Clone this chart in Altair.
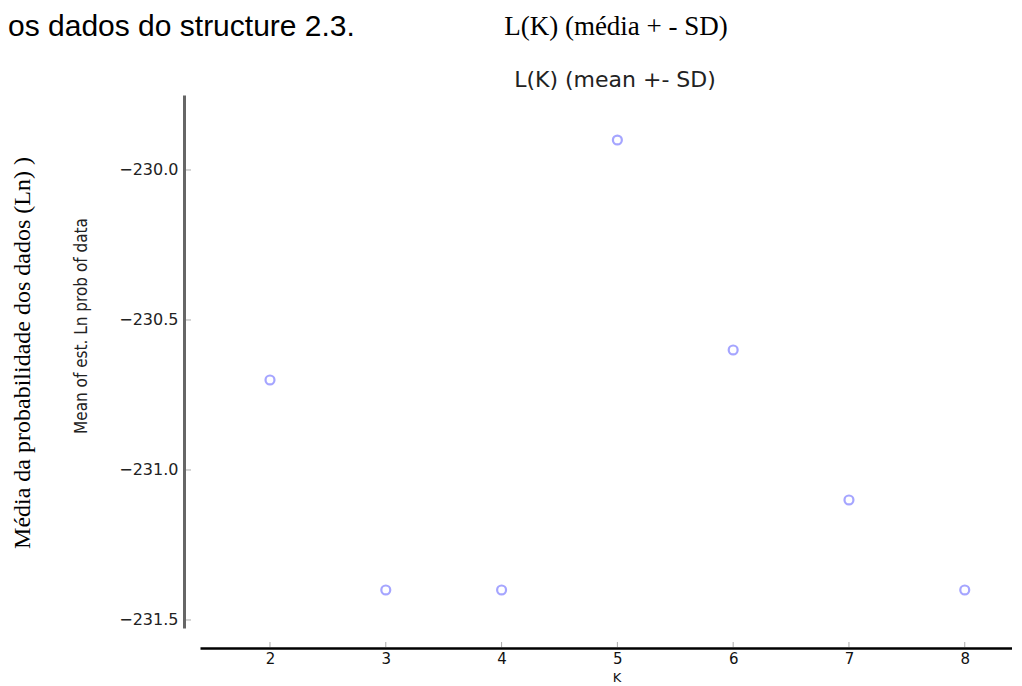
import altair as alt
import pandas as pd

# ---- data ----
K_VALUES = [2, 3, 4, 5, 6, 7, 8]
MEAN_LN = [-230.7, -231.4, -231.4, -229.9, -230.6, -231.1, -231.4]
X_TICKS = [2, 3, 4, 5, 6, 7, 8]
Y_TICKS = [-230.0, -230.5, -231.0, -231.5]

CAPTION = "os dados do structure 2.3."
TITLE_PT = "L(K) (média + - SD)"
TITLE_EN = "L(K) (mean +- SD)"
YLABEL_PT = "Média da probabilidade dos dados  (Ln) )"
YLABEL_EN = "Mean of est. Ln prob of data"
XLABEL = "K"

W, H = 812, 533

df = pd.DataFrame({"K": K_VALUES, "mean": MEAN_LN})
xticks_df = pd.DataFrame({"K": X_TICKS})
yticks_df = pd.DataFrame({"mean": Y_TICKS})

xscale = alt.Scale(domain=[1.3955, 8.408], nice=False, zero=False)
yscale = alt.Scale(domain=[-231.5267, -229.75], nice=False, zero=False)

xaxis = alt.Axis(values=X_TICKS, title=None, offset=20, tickSize=0, labelPadding=3,
                 domainColor="#000000", domainWidth=2.5, labelFont="DejaVu Sans",
                 labelFontSize=15, labelColor="#111111", grid=False, format="d")
yaxis = alt.Axis(values=Y_TICKS, title=None, offset=16, tickSize=0, labelPadding=6,
                 domainColor="#666666", domainWidth=3, labelFont="DejaVu Sans",
                 labelFontSize=16, labelColor="#222222", grid=False, format=".1f")

points = alt.Chart(df).mark_point(
    shape="circle", filled=False, size=80, strokeWidth=2.2, color="#7f7fff"
).encode(
    x=alt.X("K:Q", scale=xscale, axis=xaxis),
    y=alt.Y("mean:Q", scale=yscale, axis=yaxis),
)

ytick_marks = alt.Chart(yticks_df).mark_rule(color="#aaaaaa", strokeWidth=1).encode(
    y=alt.Y("mean:Q", scale=yscale, axis=yaxis),
    x=alt.value(-14), x2=alt.value(-9),
)

xtick_marks = alt.Chart(xticks_df).mark_rule(color="#aaaaaa", strokeWidth=1).encode(
    x=alt.X("K:Q", scale=xscale, axis=xaxis),
    y=alt.value(H + 14), y2=alt.value(H + 19),
)


def label(text, x, y, **kw):
    return alt.Chart(pd.DataFrame({"t": [text]})).mark_text(**kw).encode(
        x=alt.value(x), y=alt.value(y), text="t:N"
    )


caption = label(CAPTION, -192, -59, align="left", baseline="alphabetic",
                font="Liberation Sans", fontSize=30, color="#000000")
title_pt = label(TITLE_PT, 416, -60, align="center", baseline="alphabetic",
                 font="Liberation Serif", fontSize=27, color="#000000")
title_en = label(TITLE_EN, 415, -8, align="center", baseline="alphabetic",
                 font="DejaVu Sans", fontSize=22, color="#222222")
ylabel_pt = label(YLABEL_PT, -177, 258, align="center", baseline="middle", angle=270,
                  font="Liberation Serif", fontSize=24, color="#000000")
ylabel_en = label(YLABEL_EN, -118, 231, align="center", baseline="middle", angle=270,
                  font="DejaVu Sans Condensed, DejaVu Sans", fontSize=17, color="#222222")
xlabel = label(XLABEL, 417, H + 50, align="center", baseline="middle",
               font="DejaVu Sans", fontSize=13, color="#111111")

chart = alt.layer(
    ytick_marks, xtick_marks, points,
    caption, title_pt, title_en, ylabel_pt, ylabel_en, xlabel,
).properties(
    width=W, height=H,
    autosize=alt.AutoSizeParams(type="none"),
    padding={"left": 192, "top": 87, "right": 0, "bottom": 58},
    background="white",
).configure_view(stroke=None)

chart.save("out.html", embed_options={"renderer": "svg", "actions": False})
